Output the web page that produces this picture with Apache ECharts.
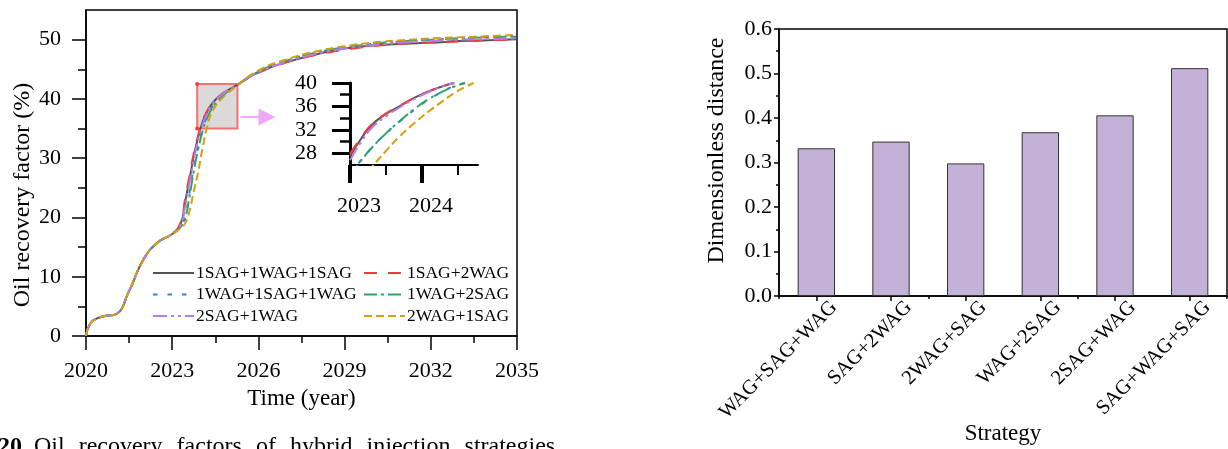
<!DOCTYPE html>
<html>
<head>
<meta charset="utf-8">
<script src="https://cdn.jsdelivr.net/npm/echarts@6/dist/echarts.min.js"></script>
<style>
  html, body { margin: 0; padding: 0; background: #fff; }
  #chart { width: 1228px; height: 449px; }
</style>
</head>
<body>
<div id="chart"></div>
<script>
// ---- Oil recovery factor (%) vs time, one array per hybrid strategy ----
const years = [2020, 2020.15, 2020.4, 2020.7, 2021.05, 2021.5, 2022, 2022.5, 2023,
  2023.3, 2023.45, 2023.6, 2023.75, 2023.9, 2024.05, 2024.2, 2024.4, 2024.7, 2025.2,
  2026, 2027, 2028, 2029, 2030, 2031, 2032, 2033, 2034, 2035];

const rf_1SAG1WAG1SAG = [0, 2.1, 3.0, 3.4, 3.7, 7.6, 12.9, 15.8, 17.2,
  19.0, 22.6, 26.4, 30.3, 33.5, 36.0, 37.7, 39.3, 40.7, 42.2,
  44.5, 46.2, 47.5, 48.5, 49.0, 49.3, 49.5, 49.75, 49.9, 50.05];
const rf_1SAG2WAG = [0, 2.1, 3.0, 3.4, 3.7, 7.6, 12.9, 15.8, 17.2,
  19.3, 23.2, 27.0, 30.8, 33.8, 36.2, 37.8, 39.3, 40.7, 42.2,
  44.4, 46.2, 47.4, 48.3, 48.9, 49.3, 49.5, 49.7, 49.9, 50.0];
const rf_1WAG1SAG1WAG = [0, 2.1, 3.0, 3.4, 3.7, 7.6, 12.9, 15.8, 17.2,
  18.5, 20.3, 24.2, 28.5, 32.0, 34.9, 36.9, 38.7, 40.4, 42.1,
  44.6, 46.5, 47.8, 48.7, 49.3, 49.7, 50.0, 50.2, 50.4, 50.5];
const rf_1WAG2SAG = [0, 2.1, 3.0, 3.4, 3.7, 7.6, 12.9, 15.8, 17.2,
  18.4, 19.8, 23.5, 27.8, 31.4, 34.4, 36.6, 38.5, 40.3, 42.1,
  44.6, 46.5, 47.8, 48.7, 49.3, 49.7, 50.0, 50.2, 50.4, 50.55];
const rf_2SAG1WAG = [0, 2.1, 3.0, 3.4, 3.7, 7.6, 12.9, 15.8, 17.2,
  18.8, 21.9, 25.8, 29.7, 33.0, 35.6, 37.4, 39.1, 40.6, 42.2,
  44.5, 46.3, 47.6, 48.5, 49.1, 49.5, 49.8, 50.0, 50.1, 50.2];
const rf_2WAG1SAG = [0, 2.1, 3.0, 3.4, 3.7, 7.6, 12.9, 15.8, 17.2,
  18.2, 19.0, 21.0, 24.4, 27.6, 31.5, 35.0, 37.9, 39.9, 42.0,
  44.8, 46.7, 48.0, 48.9, 49.5, 49.9, 50.2, 50.4, 50.6, 50.8];

// ---- enlarged view (inset) ----
const insetYears = [2023, 2023.15, 2023.3, 2023.5, 2023.7, 2023.9, 2024.1, 2024.3, 2024.45, 2024.6, 2024.72];
const in_1SAG1WAG1SAG = [27.5, 30.4, 32.8, 34.7, 36.1, 37.5, 38.6, 39.5, 40.0, null, null];
const in_1SAG2WAG     = [27.9, 30.6, 32.9, 34.8, 36.2, 37.5, 38.6, 39.5, 40.0, null, null];
const in_1WAG1SAG1WAG = [24.3, 26.8, 28.9, 31.4, 33.5, 35.5, 37.2, 38.6, 39.5, 40.0, null];
const in_1WAG2SAG     = [24.2, 26.7, 28.9, 31.4, 33.6, 35.6, 37.3, 38.6, 39.4, 40.0, null];
const in_2SAG1WAG     = [26.8, 29.8, 32.3, 34.3, 35.9, 37.3, 38.5, 39.5, 40.0, null, null];
const in_2WAG1SAG     = [null, 23.3, 25.6, 28.4, 31.0, 33.2, 35.2, 37.0, 38.3, 39.3, 40.0];

// ---- dimensionless distance per strategy ----
const strategies = ['WAG+SAG+WAG', 'SAG+2WAG', '2WAG+SAG', 'WAG+2SAG', '2SAG+WAG', 'SAG+WAG+SAG'];
const distance = [0.332, 0.347, 0.298, 0.368, 0.406, 0.512];

// axis tick positions
const mainYMajor = [0, 10, 20, 30, 40, 50];
const mainYMinor = [5, 15, 25, 35, 45];
const insetXMajor = [2023, 2024];
const insetXMinor = [2023.5, 2024.5];
const insetYMajor = [28, 32, 36, 40];
const insetYMinor = [30, 34, 38];

const FONT = "'Times New Roman', 'Liberation Serif', serif";

const styles = [
  { name: '1SAG+1WAG+1SAG', main: rf_1SAG1WAG1SAG, inset: in_1SAG1WAG1SAG, color: '#555555', type: 'solid' },
  { name: '1SAG+2WAG',      main: rf_1SAG2WAG,     inset: in_1SAG2WAG,     color: '#f23c3c', type: [13, 11] },
  { name: '1WAG+1SAG+1WAG', main: rf_1WAG1SAG1WAG, inset: in_1WAG1SAG1WAG, color: '#2f7fe0', type: [4.5, 10] },
  { name: '1WAG+2SAG',      main: rf_1WAG2SAG,     inset: in_1WAG2SAG,     color: '#2ea36a', type: [13, 4, 3, 4] },
  { name: '2SAG+1WAG',      main: rf_2SAG1WAG,     inset: in_2SAG1WAG,     color: '#b57ee6', type: [14, 4, 3, 4, 3, 4] },
  { name: '2WAG+1SAG',      main: rf_2WAG1SAG,     inset: in_2WAG1SAG,     color: '#d4a012', type: [8, 4] }
];

function pairs(xs, ys) {
  return xs.map((x, i) => [x, ys[i]]).filter(p => p[1] != null);
}

const series = [];
styles.forEach((s, k) => {
  const main = {
    name: s.name, type: 'line', xAxisIndex: 0, yAxisIndex: 0,
    data: pairs(years, s.main), symbol: 'none', smooth: 0.5,
    lineStyle: { color: s.color, width: 2, type: s.type }, itemStyle: { color: s.color },
    z: 3 + k
  };
  if (k === 0) {
    // zoomed region box and arrow pointing to the enlarged view
    main.markArea = {
      silent: true, z: 1,
      itemStyle: { color: 'rgba(205,205,205,0.75)', borderColor: '#f47272', borderWidth: 2 },
      data: [[{ coord: [2023.87, 42.5] }, { coord: [2025.27, 35] }]]
    };
    main.markLine = {
      silent: true, symbol: ['none', 'triangle'], symbolSize: 17,
      label: { show: false },
      lineStyle: { color: '#eeaaf8', width: 2, type: 'solid' },
      itemStyle: { color: '#eeaaf8' },
      data: [[{ coord: [2025.37, 36.95] }, { coord: [2026.3, 36.95] }]]
    };
    main.markPoint = {
      silent: true, symbol: 'circle', symbolSize: 4,
      itemStyle: { color: '#f23c3c' }, label: { show: false },
      data: [{ coord: [2023.87, 42.5] }, { coord: [2023.87, 35] }]
    };
  }
  series.push(main);
  series.push({
    name: s.name, type: 'line', xAxisIndex: 2, yAxisIndex: 2,
    data: pairs(insetYears, s.inset), symbol: 'none', smooth: 0.5,
    lineStyle: { color: s.color, width: 2, type: s.type }, itemStyle: { color: s.color },
    z: 3 + k
  });
});

series.push({
  name: 'distance', type: 'bar', xAxisIndex: 4, yAxisIndex: 4,
  data: distance, barWidth: '50%',
  itemStyle: { color: '#c3b2d7', borderColor: '#333', borderWidth: 1 }
});

const blackLine = { show: true, lineStyle: { color: '#000', width: 1.5 } };
const yearFmt = v => String(v);
const legendBase = {
  orient: 'vertical', top: 259, itemWidth: 41, itemHeight: 14, itemGap: 3.5,
  selectedMode: false, itemStyle: { opacity: 0 },
  textStyle: { fontFamily: FONT, fontSize: 17.5, color: '#000', padding: [0, 0, 0, -3] }
};

const option = {
  animation: false,
  textStyle: { fontFamily: FONT, color: '#000' },
  grid: [
    { left: 86, top: 10, width: 431, height: 326, show: true, borderColor: '#000', borderWidth: 1.5,
      backgroundColor: 'transparent', outerBoundsMode: 'none' },
    { left: 350, top: 83, width: 128, height: 82, outerBoundsMode: 'none' },
    { left: 779, top: 29, width: 448, height: 267, show: true, borderColor: '#000', borderWidth: 1.5,
      backgroundColor: 'transparent', outerBoundsMode: 'none' }
  ],
  legend: [
    Object.assign({ data: ['1SAG+1WAG+1SAG', '1WAG+1SAG+1WAG', '2SAG+1WAG'], left: 147 }, legendBase),
    Object.assign({ data: ['1SAG+2WAG', '1WAG+2SAG', '2WAG+1SAG'], left: 358 }, legendBase)
  ],
  xAxis: [
    { // main time axis
      type: 'value', gridIndex: 0, position: 'bottom', min: 2020, max: 2035, interval: 3,
      name: 'Time (year)', nameLocation: 'middle', nameGap: 51, nameMoveOverlap: false,
      nameTextStyle: { fontFamily: FONT, fontSize: 23, color: '#000' },
      axisLine: blackLine,
      axisTick: { show: true, length: 14, lineStyle: { color: '#000', width: 1.5 } },
      minorTick: { show: true, splitNumber: 2, length: 7, lineStyle: { color: '#000', width: 1.5 } },
      axisLabel: { fontFamily: FONT, fontSize: 22, color: '#000', margin: 24, formatter: yearFmt },
      splitLine: { show: false }
    },
    { // spare axis on main grid
      type: 'value', gridIndex: 0, position: 'bottom', min: 2020, max: 2035, show: false
    },
    { // inset time axis
      type: 'value', gridIndex: 1, position: 'bottom', min: 2023, max: 2024.78,
      axisLine: { show: true, lineStyle: { color: '#000', width: 2 } },
      axisTick: { show: true, customValues: insetXMajor, length: 18, lineStyle: { color: '#000', width: 4 } },
      axisLabel: { customValues: insetXMajor, fontFamily: FONT, fontSize: 22, color: '#000', margin: 30, padding: [0, 0, 0, 18], formatter: yearFmt },
      splitLine: { show: false }
    },
    { // inset minor ticks
      type: 'value', gridIndex: 1, position: 'bottom', min: 2023, max: 2024.78,
      axisLine: { show: false },
      axisTick: { show: true, customValues: insetXMinor, length: 10, lineStyle: { color: '#000', width: 2 } },
      axisLabel: { show: false }, splitLine: { show: false }
    },
    { // strategy axis
      type: 'category', gridIndex: 2, position: 'bottom', data: strategies,
      name: 'Strategy', nameLocation: 'middle', nameGap: 126, nameMoveOverlap: false,
      nameTextStyle: { fontFamily: FONT, fontSize: 23, color: '#000' },
      axisLine: blackLine,
      axisTick: { show: true, alignWithLabel: true, length: 5, lineStyle: { color: '#000', width: 1.5 } },
      axisLabel: { rotate: 45, fontFamily: FONT, fontSize: 20.5, color: '#000', margin: 26, interval: 0,
        verticalAlign: 'middle', padding: [0, -25, 0, 0] }
    },
    { // band boundary ticks
      type: 'category', gridIndex: 2, position: 'bottom', data: strategies,
      axisLine: { show: false },
      axisTick: { show: true, alignWithLabel: false, length: 3, lineStyle: { color: '#000', width: 1.5 } },
      axisLabel: { show: false }
    }
  ],
  yAxis: [
    { // main recovery axis
      type: 'value', gridIndex: 0, position: 'left', min: 0, max: 55,
      name: 'Oil recovery factor (%)', nameLocation: 'middle', nameGap: 51, nameMoveOverlap: false,
      nameTextStyle: { fontFamily: FONT, fontSize: 24, color: '#000', padding: [0, 44, 0, 0] },
      axisLine: blackLine,
      axisTick: { show: true, customValues: mainYMajor, length: 14, lineStyle: { color: '#000', width: 1.5 } },
      axisLabel: { customValues: mainYMajor, fontFamily: FONT, fontSize: 22, color: '#000', margin: 25 },
      splitLine: { show: false }
    },
    { // main minor ticks
      type: 'value', gridIndex: 0, position: 'left', min: 0, max: 55,
      axisLine: { show: false },
      axisTick: { show: true, customValues: mainYMinor, length: 8, lineStyle: { color: '#000', width: 1.5 } },
      axisLabel: { show: false }, splitLine: { show: false }
    },
    { // inset recovery axis
      type: 'value', gridIndex: 1, position: 'left', min: 26, max: 40,
      axisLine: { show: true, lineStyle: { color: '#000', width: 3 } },
      axisTick: { show: true, customValues: insetYMajor, length: 18, lineStyle: { color: '#000', width: 3 } },
      axisLabel: { customValues: insetYMajor, fontFamily: FONT, fontSize: 22, color: '#000', margin: 33 },
      splitLine: { show: false }
    },
    { // inset minor ticks
      type: 'value', gridIndex: 1, position: 'left', min: 26, max: 40,
      axisLine: { show: false },
      axisTick: { show: true, customValues: insetYMinor, length: 10, lineStyle: { color: '#000', width: 2.5 } },
      axisLabel: { show: false }, splitLine: { show: false }
    },
    { // dimensionless distance axis
      type: 'value', gridIndex: 2, position: 'left', min: 0, max: 0.6, interval: 0.1,
      name: 'Dimensionless distance', nameLocation: 'middle', nameGap: 50, nameMoveOverlap: false,
      nameTextStyle: { fontFamily: FONT, fontSize: 24, color: '#000', padding: [0, 0, 0, 24] },
      axisLine: blackLine,
      axisTick: { show: true, length: 5, lineStyle: { color: '#000', width: 1.5 } },
      minorTick: { show: true, splitNumber: 2, length: 3, lineStyle: { color: '#000', width: 1.5 } },
      axisLabel: { fontFamily: FONT, fontSize: 22, color: '#000', margin: 7, formatter: v => v.toFixed(1) },
      splitLine: { show: false }
    }
  ],
  graphic: [
    {
      type: 'text', x: -2, y: 447,
      style: {
        text: '{b|20.} {w|Oil}{w|recovery}{w|factors}{w|of}{w|hybrid}{w|injection}{w|strategies}',
        font: "24px 'Times New Roman', 'Liberation Serif', serif",
        fill: '#000', verticalAlign: 'middle',
        rich: {
          b: { fontFamily: FONT, fontSize: 24, fontWeight: 'bold', fill: '#000' },
          w: { fontFamily: FONT, fontSize: 24, fill: '#000', padding: [0, 14, 0, 0] }
        }
      }
    }
  ],
  series: series
};

const chart = echarts.init(document.getElementById('chart'), null, { renderer: 'canvas' });
chart.setOption(option);
</script>
</body>
</html>
